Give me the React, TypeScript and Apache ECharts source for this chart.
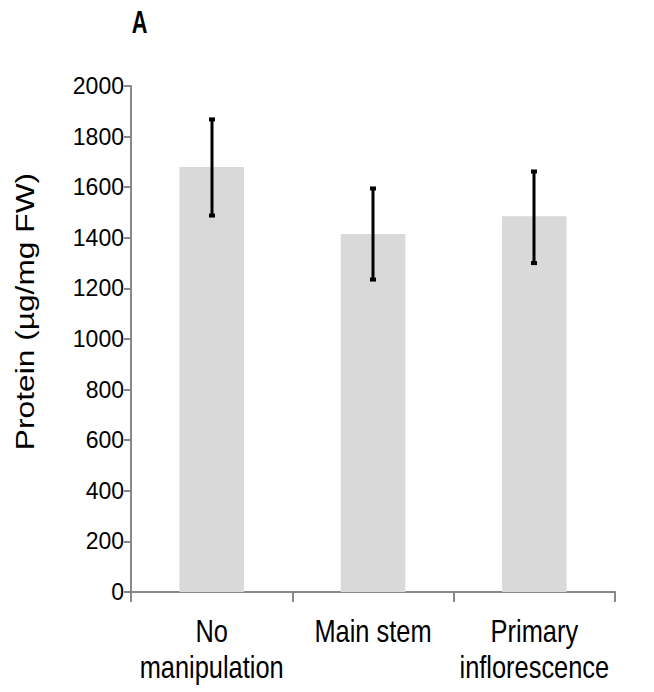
import React, { useEffect, useRef } from "react";
import * as echarts from "echarts";

const categories = ["No\nmanipulation", "Main stem", "Primary\ninflorescence"];
const proteinMeans = [1680, 1415, 1485];
const errorLow = [1488, 1235, 1300];
const errorHigh = [1868, 1595, 1662];
const yTicks = { min: 0, max: 2000, interval: 200 };
const yTitle = "Protein (µg/mg FW)";
const panelLabel = "A";

const sans = "'Liberation Sans', Arial, sans-serif";

export default function App() {
  const ref = useRef<HTMLDivElement>(null);
  useEffect(() => {
    if (!ref.current) return;
    const chart = echarts.init(ref.current, null, { renderer: "svg" });
    const errData = categories.map((_, i) => [i, errorLow[i], errorHigh[i]]);
    chart.setOption({
      animation: false,
      backgroundColor: "#ffffff",
      grid: { left: 131, right: 39, top: 86, bottom: 100, containLabel: false },
      xAxis: {
        type: "category",
        data: categories,
        axisLine: { lineStyle: { color: "#888888", width: 2 } },
        axisTick: { show: true, length: 10, lineStyle: { color: "#888888", width: 2 } },
        axisLabel: { show: false },
      },
      yAxis: {
        type: "value",
        min: yTicks.min,
        max: yTicks.max,
        interval: yTicks.interval,
        splitLine: { show: false },
        axisLine: { show: true, lineStyle: { color: "#888888", width: 2 } },
        axisTick: { show: true, length: 7, lineStyle: { color: "#888888", width: 2 } },
        axisLabel: {
          color: "#000",
          fontFamily: sans,
          fontSize: 23,
          margin: 7,
          formatter: (v: number) => String(v),
        },
      },
      series: [
        {
          type: "bar",
          data: proteinMeans,
          barWidth: "40%",
          itemStyle: { color: "#d9d9d9" },
        },
        {
          type: "custom",
          data: errData,
          z: 10,
          renderItem: (params: any, api: any) => {
            const x = api.value(0);
            const lo = api.coord([x, api.value(1)]);
            const hi = api.coord([x, api.value(2)]);
            const cx = Math.round(lo[0]);
            return {
              type: "group",
              children: [
                {
                  type: "line",
                  shape: { x1: cx, y1: lo[1], x2: cx, y2: hi[1] },
                  style: { stroke: "#000", lineWidth: 3 },
                },
                { type: "rect", shape: { x: cx - 3, y: hi[1] - 2, width: 6, height: 4 }, style: { fill: "#000" } },
                { type: "rect", shape: { x: cx - 3, y: lo[1] - 2, width: 6, height: 4 }, style: { fill: "#000" } },
              ],
            };
          },
        },
      ],
    });

    const baseY = chart.convertToPixel({ yAxisIndex: 0 }, 0) as number;
    const catLabels = categories.map((c, i) => {
      const px = chart.convertToPixel({ xAxisIndex: 0 }, i) as number;
      return {
        type: "text",
        id: "cat" + i,
        x: px,
        y: baseY + 21,
        scaleX: 0.82,
        style: {
          text: c,
          fontFamily: sans,
          fontSize: 31,
          lineHeight: 36,
          fill: "#000",
          align: "center",
          verticalAlign: "top",
        },
      };
    });

    chart.setOption({
      graphic: [
        {
          type: "text",
          id: "panel",
          x: 139.5,
          y: 21.5,
          scaleX: 0.68,
          style: {
            text: panelLabel,
            fontFamily: sans,
            fontWeight: "bold",
            fontSize: 32,
            fill: "#000",
            align: "center",
            verticalAlign: "middle",
          },
        },
        {
          type: "text",
          id: "ytitle",
          x: 25,
          y: 311.5,
          rotation: Math.PI / 2,
          scaleX: 1.22,
          style: {
            text: yTitle,
            fontFamily: sans,
            fontSize: 26,
            fill: "#000",
            align: "center",
            verticalAlign: "middle",
          },
        },
        ...catLabels,
      ],
    });
    return () => chart.dispose();
  }, []);
  return <div ref={ref} style={{ position: "fixed", left: 0, top: 0, width: 654, height: 692 }} />;
}
